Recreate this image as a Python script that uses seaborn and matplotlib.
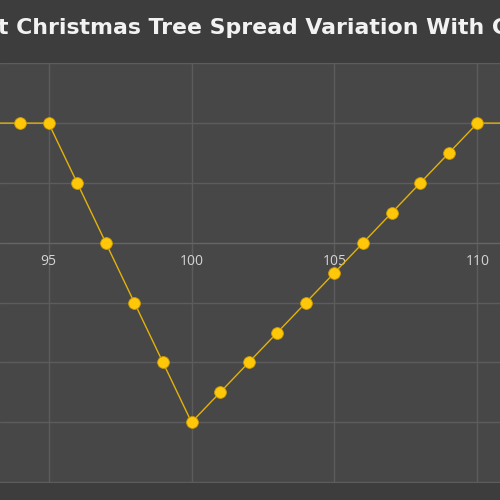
import seaborn as sns
import matplotlib.pyplot as plt
import pandas as pd

sns.set_style("dark")
plt.rcParams['font.family'] = ['Open Sans', 'DejaVu Sans']

# data
price = [93, 94, 95, 96, 97, 98, 99, 100, 101, 102, 103, 104, 105, 106, 107, 108, 109, 110, 111]
spread = [2, 2, 2, 1, 0, -1, -2, -3, -2.5, -2, -1.5, -1, -0.5, 0, 0.5, 1, 1.5, 2, 2]
x_ticks = [95, 100, 105, 110]
y_ticks = [-4, -3, -2, -1, 0, 1, 2, 3]
title = "t Christmas Tree Spread Variation With C"

df = pd.DataFrame({"price": price, "spread": spread})

fig = plt.figure(figsize=(5, 5), dpi=100, facecolor="#3d3d3d")
ax = fig.add_axes([0, 0.0346, 1, 0.84])
ax.set_facecolor("#474747")

sns.lineplot(data=df, x="price", y="spread", ax=ax, color="#e3b20c", linewidth=1.0,
             marker="o", markersize=8.5, markerfacecolor="#ffc70a",
             markeredgecolor="#c99a00", markeredgewidth=0.6, zorder=5)

ax.set_xlim(93.30, 110.79)
ax.set_ylim(-4.01, 3.01)
ax.set_xticks(x_ticks)
ax.set_yticks(y_ticks)
ax.set_yticklabels([])
ax.grid(True, color="#5c5c5c", linewidth=1)
ax.set_axisbelow(True)

for s in ["left", "right", "top"]:
    ax.spines[s].set_visible(False)
ax.spines["bottom"].set_position(("data", 0))
ax.spines["bottom"].set_color("#666666")
ax.tick_params(axis="x", length=0, pad=8, labelsize=10, labelcolor="#d4d4d4")
ax.tick_params(axis="y", length=0)
ax.set_xlabel("")
ax.set_ylabel("")

# title is cropped at both sides in the reference
fig.text(-0.004, 0.944, title, ha="left", va="center", fontsize=15.8,
         fontweight="bold", color="#f2f2f2", family="DejaVu Sans")

fig.savefig("out.png", dpi=100, facecolor=fig.get_facecolor())
